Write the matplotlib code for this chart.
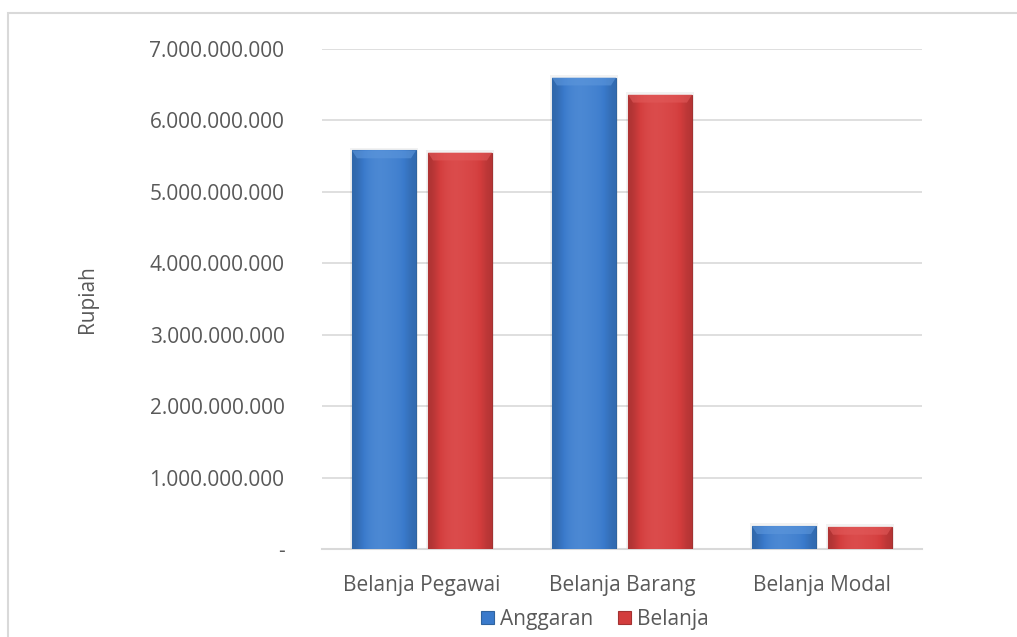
import numpy as np
import matplotlib
matplotlib.use("Agg")
from matplotlib import pyplot as plt
from matplotlib.ticker import FuncFormatter
from matplotlib.patches import Rectangle, Polygon
from matplotlib.colors import LinearSegmentedColormap

categories = ['Belanja Pegawai', 'Belanja Barang', 'Belanja Modal']
anggaran = [5.58e9, 6.60e9, 0.32e9]
belanja = [5.55e9, 6.36e9, 0.31e9]
series_names = ['Anggaran', 'Belanja']

blue = '#3a7acb'
red = '#d33d3d'
txt = '#595959'

plt.rcParams['font.family'] = ['Open Sans', 'DejaVu Sans']

fig = plt.figure(figsize=(10.17, 6.37), dpi=100)
ax = fig.add_axes([322/1017, 1-549/637, 600/1017, 500/637])

# light frame round the chart (left and top edges visible)
fig.patches.append(Rectangle((8/1017, -0.1), 1.2, 1-13/637+0.1, transform=fig.transFigure,
                             fill=False, edgecolor='#d9d9d9', linewidth=1.5))

x = np.arange(len(categories))
w = 0.32
gap = 0.06
b1 = ax.bar(x - (w+gap)/2, anggaran, w, color=blue, edgecolor='#30649f', linewidth=0.8,
            label=series_names[0], zorder=3)
b2 = ax.bar(x + (w+gap)/2, belanja, w, color=red, edgecolor='#a33232', linewidth=0.8,
            label=series_names[1], zorder=3)

# shading across each bar and a bevel on top
prof = np.array([0.45, 0.75, 0.9, 0.95, 0.9, 0.85, 0.75, 0.5])
bevel_h = 0.11e9
for bars, base, light, dark in [(b1, blue, '#5d97dc', '#2b5d98'), (b2, red, '#e25a5a', '#9a2e2e')]:
    cmap = LinearSegmentedColormap.from_list('s', [dark, base, light])
    for r in bars:
        x0, y0, bw, bh = r.get_x(), r.get_y(), r.get_width(), r.get_height()
        im = ax.imshow(prof[None, :], cmap=cmap, vmin=0.3, vmax=1.15, aspect='auto',
                       extent=[x0, x0+bw, y0, y0+bh], zorder=3.5, interpolation='bicubic')
        im.set_clip_path(r)
        bh_ = min(bevel_h, bh*0.4)
        ax.add_patch(Polygon([[x0, y0+bh], [x0+bw, y0+bh], [x0+bw-0.025, y0+bh-bh_],
                              [x0+0.025, y0+bh-bh_]], closed=True, facecolor=light,
                             edgecolor='none', alpha=0.6, zorder=4))
        # soft shadow
        ax.add_patch(Rectangle((x0-0.012, y0), bw+0.024, bh+0.04e9, facecolor='#000000',
                               alpha=0.05, edgecolor='none', zorder=2.5))

ax.set_xlim(-0.5, 2.5)
ax.set_ylim(0, 7e9)
ax.set_yticks(np.arange(0, 7.01e9, 1e9))


def fmt(v, pos):
    if v == 0:
        return '-'
    return f'{int(round(v)):,}'.replace(',', '.')


ax.yaxis.set_major_formatter(FuncFormatter(fmt))
ax.set_xticks(x)
ax.set_xticklabels(categories)
ax.tick_params(axis='both', length=0, labelsize=15, colors=txt)
ax.tick_params(axis='y', pad=27)
ax.tick_params(axis='x', pad=19)
ax.grid(axis='y', color='#d9d9d9', linewidth=1.2, zorder=0)
ax.set_axisbelow(True)
for s in ['top', 'right', 'left']:
    ax.spines[s].set_visible(False)
ax.spines['bottom'].set_color('#d9d9d9')
ax.spines['bottom'].set_linewidth(1.5)

fig.text(88/1017, 1-299/637, 'Rupiah', rotation=90, ha='center', va='center',
         fontsize=15, color=txt)

leg = fig.legend(handles=[b1, b2], labels=series_names, loc='center',
                 bbox_to_anchor=(595/1017, 1-619/637), ncol=2, frameon=False,
                 fontsize=15, handlelength=0.6, handleheight=0.6, handletextpad=0.3,
                 columnspacing=1.2, labelcolor=txt)

fig.savefig('out.png', dpi=100)
